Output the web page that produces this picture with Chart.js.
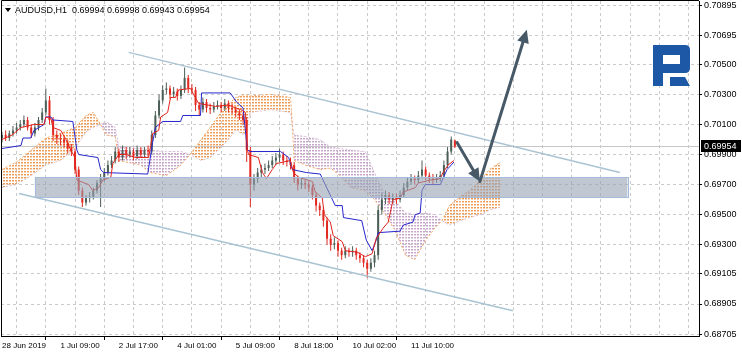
<!DOCTYPE html>
<html>
<head>
<meta charset="utf-8">
<script src="https://cdn.jsdelivr.net/npm/chart.js@4.4.1/dist/chart.umd.min.js"></script>
<style>
html, body { margin: 0; padding: 0; background: #fff; }
</style>
</head>
<body>
<canvas id="grafico" width="742" height="355"></canvas>
<script>
// cabeçalho
const simbolo = 'AUDUSD,H1';
const ultimoOHLC = [0.69994, 0.69998, 0.69943, 0.69954];

// eixo do tempo (índice da barra H1)
const rotulosTempo = ['28 Jun 2019', '1 Jul 09:00', '2 Jul 17:00', '4 Jul 01:00', '5 Jul 09:00', '8 Jul 18:00', '10 Jul 02:00', '11 Jul 10:00'];
const horasRotulos = [0, 32, 64, 96, 128, 160, 192, 224];
const ticksPreco = [0.68705, 0.68905, 0.69105, 0.69300, 0.69500, 0.69700, 0.69900, 0.70100, 0.70300, 0.70500, 0.70695, 0.70895];

// velas (cada uma cobre 2 barras H1)
const abertura = [
    0.7001,0.7003,0.7001,0.7004,0.7006,0.7008,0.7010,0.7013,0.7008,0.7004,
    0.7008,0.7013,0.7018,0.7026,0.7013,0.7003,0.7001,0.7000,0.6998,0.6994,
    0.6992,0.6980,0.6966,0.6958,0.6961,0.6962,0.6966,0.6971,0.6974,0.6978,
    0.6983,0.6986,0.6992,0.6988,0.6993,0.6990,0.6992,0.6989,0.6993,0.6990,
    0.6993,0.6992,0.7003,0.7016,0.7026,0.7033,0.7034,0.7030,0.7032,0.7029,
    0.7033,0.7041,0.7034,0.7033,0.7023,0.7020,0.7025,0.7021,0.7020,0.7022,
    0.7023,0.7021,0.7024,0.7021,0.7020,0.7018,0.7016,0.7013,0.6993,0.6970,
    0.6974,0.6978,0.6980,0.6981,0.6983,0.6986,0.6988,0.6990,0.6986,0.6985,
    0.6983,0.6974,0.6970,0.6971,0.6970,0.6968,0.6963,0.6956,0.6953,0.6946,
    0.6934,0.6930,0.6931,0.6926,0.6923,0.6926,0.6925,0.6926,0.6923,0.6921,
    0.6918,0.6914,0.6918,0.6923,0.6953,0.6960,0.6963,0.6960,0.6961,0.6960,
    0.6963,0.6968,0.6972,0.6974,0.6973,0.6976,0.6980,0.6976,0.6974,0.6973,
    0.6974,0.6976,0.6983,0.6992,0.69994
];
const maxima = [
    0.7005,0.7006,0.7006,0.7009,0.7011,0.7013,0.7016,0.7015,0.7010,0.7011,
    0.7015,0.7021,0.7034,0.7029,0.7015,0.7006,0.7004,0.7002,0.7000,0.6997,
    0.6994,0.6982,0.6968,0.6963,0.6965,0.6968,0.6973,0.6977,0.6981,0.6986,
    0.6989,0.6995,0.6994,0.6996,0.6995,0.6995,0.6994,0.6996,0.6995,0.6995,
    0.6996,0.7006,0.7019,0.7030,0.7036,0.7038,0.7036,0.7035,0.7034,0.7036,
    0.7048,0.7043,0.7037,0.7035,0.7025,0.7028,0.7027,0.7024,0.7025,0.7026,
    0.7025,0.7027,0.7026,0.7024,0.7022,0.7020,0.7018,0.7015,0.6995,0.6977,
    0.6981,0.6983,0.6984,0.6986,0.6989,0.6991,0.6994,0.6992,0.6989,0.6988,
    0.6985,0.6976,0.6974,0.6973,0.6972,0.6970,0.6965,0.6958,0.6955,0.6948,
    0.6937,0.6935,0.6933,0.6928,0.6929,0.6928,0.6929,0.6928,0.6925,0.6923,
    0.6920,0.6921,0.6926,0.6956,0.6964,0.6966,0.6965,0.6964,0.6964,0.6966,
    0.6971,0.6975,0.6977,0.6976,0.6979,0.6986,0.6982,0.6978,0.6977,0.6977,
    0.6979,0.6986,0.6995,0.7002,0.69998
];
const minima = [
    0.6998,0.6999,0.6999,0.7002,0.7004,0.7006,0.7008,0.7006,0.7001,0.7002,
    0.7006,0.7011,0.7016,0.7010,0.6999,0.6997,0.6996,0.6995,0.6991,0.6989,
    0.6977,0.6963,0.6955,0.6956,0.6958,0.6960,0.6964,0.6955,0.6972,0.6976,
    0.6981,0.6984,0.6985,0.6986,0.6987,0.6988,0.6986,0.6987,0.6988,0.6988,
    0.6989,0.6990,0.7001,0.7014,0.7024,0.7030,0.7027,0.7028,0.7026,0.7027,
    0.7031,0.7031,0.7030,0.7019,0.7016,0.7018,0.7018,0.7017,0.7018,0.7020,
    0.7018,0.7019,0.7018,0.7017,0.7015,0.7013,0.7010,0.6985,0.6955,0.6966,
    0.6971,0.6975,0.6977,0.6979,0.6981,0.6983,0.6985,0.6983,0.6982,0.6980,
    0.6971,0.6966,0.6967,0.6967,0.6965,0.6960,0.6952,0.6949,0.6942,0.6930,
    0.6926,0.6927,0.6922,0.6920,0.6921,0.6922,0.6922,0.6920,0.6918,0.6915,
    0.6908,0.6912,0.6915,0.6920,0.6950,0.6957,0.6957,0.6957,0.6957,0.6958,
    0.6961,0.6966,0.6970,0.6970,0.6971,0.6974,0.6973,0.6971,0.6970,0.6971,
    0.6972,0.6974,0.6981,0.6990,0.69943
];
const fechamento = [
    0.7003,0.7001,0.7004,0.7006,0.7008,0.7010,0.7013,0.7008,0.7004,0.7008,
    0.7013,0.7018,0.7026,0.7013,0.7003,0.7001,0.7000,0.6998,0.6994,0.6992,
    0.6980,0.6966,0.6958,0.6961,0.6962,0.6966,0.6971,0.6974,0.6978,0.6983,
    0.6986,0.6992,0.6988,0.6993,0.6990,0.6992,0.6989,0.6993,0.6990,0.6993,
    0.6992,0.7003,0.7016,0.7026,0.7033,0.7034,0.7030,0.7032,0.7029,0.7033,
    0.7041,0.7034,0.7033,0.7023,0.7020,0.7025,0.7021,0.7020,0.7022,0.7023,
    0.7021,0.7024,0.7021,0.7020,0.7018,0.7016,0.7013,0.6993,0.6970,0.6974,
    0.6978,0.6980,0.6981,0.6983,0.6986,0.6988,0.6990,0.6986,0.6985,0.6983,
    0.6974,0.6970,0.6971,0.6970,0.6968,0.6963,0.6956,0.6953,0.6946,0.6934,
    0.6930,0.6931,0.6926,0.6923,0.6926,0.6925,0.6926,0.6923,0.6921,0.6918,
    0.6914,0.6918,0.6923,0.6953,0.6960,0.6963,0.6960,0.6961,0.6960,0.6963,
    0.6968,0.6972,0.6974,0.6973,0.6976,0.6980,0.6976,0.6974,0.6973,0.6974,
    0.6976,0.6983,0.6992,0.7000,0.69954
];

// Ichimoku: [barra, preço]
const tenkan = [
    [0,0.7000],[5.5,0.7003],[10.4,0.7008],[17.5,0.7010],[23,0.7010],[24,0.7015],[26.8,0.7014],[27.9,0.7008],
    [32.2,0.7006],[35,0.7000],[37.7,0.6993],[39.9,0.6988],[41,0.6973],[47.5,0.6970],[49.7,0.6966],[53,0.6968],
    [55.2,0.6973],[59.6,0.6975],[60.7,0.6984],[64,0.6990],[67.8,0.6990],[73.2,0.6988],[80.3,0.6988],[81.4,0.6996],
    [82.5,0.7004],[85.8,0.7006],[86.9,0.7015],[90.7,0.7018],[92.3,0.7028],[95,0.7028],[96.7,0.7033],[103.3,0.7034],
    [104.9,0.7030],[107.7,0.7024],[117,0.7022],[124,0.7023],[127.9,0.7021],[130.6,0.7020],[133.3,0.7018],[134.4,0.6993],
    [135,0.6990],[140.4,0.6988],[142.6,0.6978],[144.8,0.6974],[148,0.6980],[150.3,0.6984],[157.9,0.6986],[159.6,0.6978],
    [162.3,0.6975],[170,0.6972],[171.6,0.6965],[175.4,0.6961],[176.5,0.6950],[179.8,0.6945],[181.4,0.6936],[186.3,0.6932],
    [188,0.6926],[194.5,0.6925],[199,0.6922],[202.7,0.6924],[204.9,0.6934],[208.7,0.6941],[211.5,0.6945],[214.2,0.6960],
    [218,0.6961],[219.7,0.6965],[226.3,0.6968],[228,0.6971],[234.4,0.6973],[240,0.6974],[241.5,0.6978],[244.3,0.6983],
    [247.5,0.6986]
];
const kijun = [
    [0,0.6994],[10.4,0.6996],[11.5,0.7001],[15.8,0.7001],[17.5,0.7006],[23,0.7010],[24,0.7015],[26.8,0.7015],
    [27.9,0.7013],[38.8,0.7012],[41,0.6993],[42,0.6990],[52.5,0.6988],[54,0.6980],[55.7,0.6978],[79.8,0.6977],
    [82.5,0.6998],[84,0.7008],[88,0.7012],[97.8,0.7012],[99,0.7016],[108.7,0.7016],[109.3,0.7031],[125,0.7031],
    [128.4,0.7025],[132,0.7021],[134.4,0.6993],[136,0.6992],[152.5,0.6992],[157,0.6988],[159,0.6980],[166.7,0.6978],
    [174.3,0.6977],[177,0.6970],[182.5,0.6956],[186.3,0.6956],[187,0.6948],[197,0.6946],[199.5,0.6933],[202.7,0.6926],
    [204.9,0.6933],[206,0.6938],[218,0.6939],[219.7,0.6943],[225,0.6945],[226.3,0.6950],[229,0.6951],[230,0.6966],
    [231.7,0.6970],[240,0.6970],[241.5,0.6974],[243.7,0.6980],[246,0.6983],[247.5,0.6985]
];
const nuvemHoras = [0,8,16,24,32,40,46,50,54,57,62,64,76,81,90,98,103,109,114,121,128,133,136,147,158,159,160,166,174,180,185,191,199,204,210,215,221,226,232,237,241,245,251,256,262,267,273];
const spanA = [0.6980,0.6985,0.6993,0.7001,0.7004,0.7008,0.7016,0.7018,0.7010,0.7003,0.7002,0.6986,0.6983,0.6978,0.6976,0.6983,0.6990,0.7000,0.7008,0.7020,0.7028,0.7030,0.7029,0.7030,0.7028,0.7010,0.6986,0.6983,0.6980,0.6981,0.6976,0.6968,0.6966,0.6960,0.6950,0.6940,0.6923,0.6920,0.6933,0.6941,0.6946,0.6956,0.6962,0.6966,0.6973,0.6980,0.6985];
const spanB = [0.6968,0.6970,0.6976,0.6983,0.6986,0.6994,0.7005,0.7008,0.7010,0.7012,0.7008,0.6995,0.6994,0.6993,0.6992,0.6992,0.6990,0.6986,0.6988,0.6996,0.7006,0.7003,0.7018,0.7020,0.7018,0.7010,0.7003,0.7002,0.7000,0.6995,0.6994,0.6993,0.6992,0.6978,0.6962,0.6960,0.6951,0.6950,0.6951,0.6950,0.6946,0.6943,0.6946,0.6948,0.6950,0.6953,0.6955];

// objetos desenhados: canal, zona e setas
const canalSuperior = [[69.4, 0.7058], [338.3, 0.6978]];
const canalInferior = [[9.3, 0.6964], [279.8, 0.6886]];
const zonaHoras = [18, 342.5];
const zonaPrecos = [0.69750, 0.69617];
const setaPontos = [[249.2, 0.6998], [261.7, 0.6972], [287.4, 0.7073]];

const precoAtual = fechamento[fechamento.length - 1];
const horasVelas = fechamento.map((_, i) => i * 2);
const gradeHoras = Array.from({ length: 24 }, (_, i) => i * 16);

const corAlta = '#4c5f57';
const corBaixa = '#e2281f';

function corVela(c) {
    return fechamento[c.dataIndex] >= abertura[c.dataIndex] ? corAlta : corBaixa;
}

// hachura pontilhada da nuvem, como o histograma do MT4
function criarPadrao(cor) {
    const tela = document.createElement('canvas');
    tela.width = 3;
    tela.height = 3;
    const g = tela.getContext('2d');
    g.fillStyle = cor;
    g.fillRect(0, 0, 2, 1);
    g.globalAlpha = 0.45;
    g.fillRect(0, 1, 2, 1);
    return g.createPattern(tela, 'repeat');
}

const padraoLaranja = criarPadrao('#ef9a52');
const padraoCardo = criarPadrao('#c6a4ca');

function pontos(lista) {
    return lista.map(p => ({ x: p[0], y: p[1] }));
}

function preencherTrecho(ctx, vertices, alta) {
    ctx.fillStyle = alta ? padraoLaranja : padraoCardo;
    ctx.beginPath();
    ctx.moveTo(vertices[0][0], vertices[0][1]);
    for (let k = 1; k < vertices.length; k++) ctx.lineTo(vertices[k][0], vertices[k][1]);
    ctx.closePath();
    ctx.fill();
}

// nuvem entre Span A e Span B, posicionada pelas escalas do gráfico
function desenharNuvem(chart) {
    const { ctx, chartArea: a, scales: { x, y } } = chart;
    ctx.save();
    ctx.beginPath();
    ctx.rect(a.left, a.top, a.right - a.left, a.bottom - a.top);
    ctx.clip();
    for (let i = 0; i < nuvemHoras.length - 1; i++) {
        const x0 = x.getPixelForValue(nuvemHoras[i]), x1 = x.getPixelForValue(nuvemHoras[i + 1]);
        const a0 = y.getPixelForValue(spanA[i]), a1 = y.getPixelForValue(spanA[i + 1]);
        const b0 = y.getPixelForValue(spanB[i]), b1 = y.getPixelForValue(spanB[i + 1]);
        const d0 = spanA[i] - spanB[i], d1 = spanA[i + 1] - spanB[i + 1];
        if (d0 * d1 < 0) {
            const t = d0 / (d0 - d1);
            const xc = x0 + t * (x1 - x0), yc = a0 + t * (a1 - a0);
            preencherTrecho(ctx, [[x0, a0], [xc, yc], [x0, b0]], d0 > 0);
            preencherTrecho(ctx, [[xc, yc], [x1, a1], [x1, b1]], d1 > 0);
        } else {
            preencherTrecho(ctx, [[x0, a0], [x1, a1], [x1, b1], [x0, b0]], d0 + d1 >= 0);
        }
    }
    ctx.restore();
}

function desenharSeta(ctx, x1, y1, x2, y2) {
    const ang = Math.atan2(y2 - y1, x2 - x1);
    const comp = 13, larg = 6;
    const bx = x2 - comp * Math.cos(ang), by = y2 - comp * Math.sin(ang);
    ctx.beginPath();
    ctx.moveTo(x1, y1);
    ctx.lineTo(bx, by);
    ctx.stroke();
    ctx.beginPath();
    ctx.moveTo(x2, y2);
    ctx.lineTo(bx + larg * Math.sin(ang), by - larg * Math.cos(ang));
    ctx.lineTo(bx - larg * Math.sin(ang), by + larg * Math.cos(ang));
    ctx.closePath();
    ctx.fill();
}

const pluginExtras = {
    id: 'extras',
    beforeDatasetsDraw(chart) {
        desenharNuvem(chart);
        const { ctx, chartArea: a, scales: { y } } = chart;
        const py = Math.round(y.getPixelForValue(precoAtual)) + 0.5;
        ctx.save();
        ctx.strokeStyle = '#c6c6c6';
        ctx.lineWidth = 1;
        ctx.beginPath();
        ctx.moveTo(a.left, py);
        ctx.lineTo(a.right, py);
        ctx.stroke();
        ctx.restore();
    },
    afterDatasetsDraw(chart) {
        const { ctx, scales: { x, y } } = chart;
        ctx.save();
        // zona de suporte
        const zx1 = x.getPixelForValue(zonaHoras[0]), zx2 = x.getPixelForValue(zonaHoras[1]);
        const zy1 = y.getPixelForValue(zonaPrecos[0]), zy2 = y.getPixelForValue(zonaPrecos[1]);
        ctx.fillStyle = 'rgba(150,161,178,0.6)';
        ctx.fillRect(zx1, zy1, zx2 - zx1, zy2 - zy1);
        ctx.strokeStyle = '#a3bbdc';
        ctx.lineWidth = 1;
        ctx.strokeRect(Math.round(zx1) + 0.5, Math.round(zy1) + 0.5, Math.round(zx2 - zx1), Math.round(zy2 - zy1));
        // setas
        ctx.strokeStyle = '#475866';
        ctx.fillStyle = '#475866';
        ctx.lineWidth = 3;
        ctx.lineCap = 'round';
        for (let i = 0; i < setaPontos.length - 1; i++) {
            desenharSeta(ctx,
                x.getPixelForValue(setaPontos[i][0]), y.getPixelForValue(setaPontos[i][1]),
                x.getPixelForValue(setaPontos[i + 1][0]), y.getPixelForValue(setaPontos[i + 1][1]));
        }
        ctx.restore();
    },
    afterDraw(chart) {
        const { ctx, chartArea: a, scales: { y } } = chart;
        ctx.save();
        // moldura esquerda e superior
        ctx.strokeStyle = '#000';
        ctx.lineWidth = 1;
        ctx.beginPath();
        ctx.moveTo(a.left + 0.5, a.bottom);
        ctx.lineTo(a.left + 0.5, 0.5);
        ctx.lineTo(a.right, 0.5);
        ctx.stroke();

        // cabeçalho
        ctx.fillStyle = '#000';
        ctx.beginPath();
        ctx.moveTo(5, 8);
        ctx.lineTo(11, 8);
        ctx.lineTo(8, 12);
        ctx.closePath();
        ctx.fill();
        ctx.font = '9px "Liberation Sans"';
        ctx.textBaseline = 'alphabetic';
        ctx.textAlign = 'left';
        ctx.fillText(simbolo + '  ' + ultimoOHLC.map(v => v.toFixed(5)).join(' '), 15, 13);

        // logotipo
        ctx.fillStyle = '#1c58a5';
        ctx.beginPath();
        ctx.moveTo(653, 45);
        ctx.lineTo(685, 45);
        ctx.quadraticCurveTo(690, 45, 690, 50);
        ctx.lineTo(690, 68);
        ctx.quadraticCurveTo(690, 73, 685, 73);
        ctx.lineTo(663, 73);
        ctx.lineTo(663, 86);
        ctx.lineTo(653, 86);
        ctx.closePath();
        ctx.moveTo(663, 55);
        ctx.lineTo(680, 55);
        ctx.lineTo(680, 64);
        ctx.lineTo(663, 64);
        ctx.closePath();
        ctx.fill('evenodd');
        ctx.beginPath();
        ctx.moveTo(670, 77);
        ctx.lineTo(685, 77);
        ctx.lineTo(690, 86);
        ctx.lineTo(670, 86);
        ctx.closePath();
        ctx.fill();

        // etiqueta do preço atual
        const py = Math.round(y.getPixelForValue(precoAtual));
        ctx.fillStyle = '#000';
        ctx.fillRect(a.right + 2, py - 6, 40, 12);
        ctx.fillStyle = '#fff';
        ctx.textBaseline = 'middle';
        ctx.fillText(precoAtual.toFixed(5), a.right + 5, py + 0.5);
        ctx.restore();
    }
};

const dadosGrafico = {
    datasets: [
        {
            type: 'line',
            label: 'Senkou Span A',
            data: nuvemHoras.map((h, i) => ({ x: h, y: spanA[i] })),
            borderColor: '#f4a460',
            borderWidth: 1,
            borderDash: [2, 2],
            pointRadius: 0,
            fill: false,
            order: 20
        },
        {
            type: 'line',
            label: 'Senkou Span B',
            data: nuvemHoras.map((h, i) => ({ x: h, y: spanB[i] })),
            borderColor: '#d8bfd8',
            borderWidth: 1,
            borderDash: [2, 2],
            pointRadius: 0,
            fill: false,
            order: 21
        },
        {
            type: 'bar',
            label: 'sombras',
            data: horasVelas.map((h, i) => ({ x: h, y: [minima[i], maxima[i]] })),
            backgroundColor: corVela,
            barThickness: 1,
            grouped: false,
            inflateAmount: 0,
            order: 9
        },
        {
            type: 'bar',
            label: 'corpos',
            data: horasVelas.map((h, i) => ({ x: h, y: [abertura[i], fechamento[i]] })),
            backgroundColor: corVela,
            barThickness: 2,
            minBarLength: 1,
            grouped: false,
            inflateAmount: 0,
            order: 8
        },
        {
            type: 'line',
            label: 'Kijun-sen',
            data: pontos(kijun),
            borderColor: '#2626cc',
            borderWidth: 1,
            pointRadius: 0,
            fill: false,
            order: 5
        },
        {
            type: 'line',
            label: 'Tenkan-sen',
            data: pontos(tenkan),
            borderColor: '#e0241c',
            borderWidth: 1,
            pointRadius: 0,
            fill: false,
            order: 4
        },
        {
            type: 'line',
            label: 'canal superior',
            data: pontos(canalSuperior),
            borderColor: '#aac3d3',
            borderWidth: 1.5,
            pointRadius: 0,
            fill: false,
            order: 2
        },
        {
            type: 'line',
            label: 'canal inferior',
            data: pontos(canalInferior),
            borderColor: '#aac3d3',
            borderWidth: 1.5,
            pointRadius: 0,
            fill: false,
            order: 2
        }
    ]
};

const configGrafico = {
    type: 'line',
    data: dadosGrafico,
    plugins: [pluginExtras],
    options: {
        responsive: false,
        devicePixelRatio: 1,
        animation: false,
        events: [],
        layout: { padding: { left: 1, top: 1, right: 0, bottom: 0 } },
        plugins: {
            legend: { display: false },
            tooltip: { enabled: false }
        },
        scales: {
            x: {
                type: 'linear',
                position: 'bottom',
                min: -0.55,
                max: 381.7,
                offset: false,
                afterBuildTicks: (eixo) => { eixo.ticks = gradeHoras.map(v => ({ value: v })); },
                afterFit: (eixo) => {
                    eixo.height = 19;
                    eixo.paddingLeft = 0;
                    eixo.paddingRight = 0;
                },
                ticks: {
                    autoSkip: false,
                    maxRotation: 0,
                    minRotation: 0,
                    align: 'start',
                    padding: 1,
                    color: '#000',
                    font: { family: 'Liberation Sans', size: 8 },
                    callback: (v) => {
                        const i = horasRotulos.indexOf(v);
                        return i >= 0 ? rotulosTempo[i] : '';
                    }
                },
                grid: {
                    color: '#cacaca',
                    lineWidth: 1,
                    tickLength: 4,
                    tickColor: (c) => (c.tick && horasRotulos.includes(c.tick.value)) ? '#000' : 'rgba(0,0,0,0)'
                },
                border: { display: true, color: '#000', width: 1, dash: [3, 3] }
            },
            y: {
                type: 'linear',
                position: 'right',
                min: 0.68692,
                max: 0.70922,
                afterBuildTicks: (eixo) => { eixo.ticks = ticksPreco.map(v => ({ value: v })); },
                afterFit: (eixo) => {
                    eixo.width = 43;
                    eixo.paddingTop = 0;
                    eixo.paddingBottom = 0;
                },
                ticks: {
                    autoSkip: false,
                    padding: 2,
                    color: '#000',
                    font: { family: 'Liberation Sans', size: 9 },
                    callback: (v) => Number(v).toFixed(5)
                },
                grid: { color: '#cacaca', lineWidth: 1, tickLength: 3, tickColor: '#000' },
                border: { display: true, color: '#000', width: 1, dash: [3, 3] }
            }
        }
    }
};

const graficoVelas = new Chart(document.getElementById('grafico'), configGrafico);
</script>
</body>
</html>
